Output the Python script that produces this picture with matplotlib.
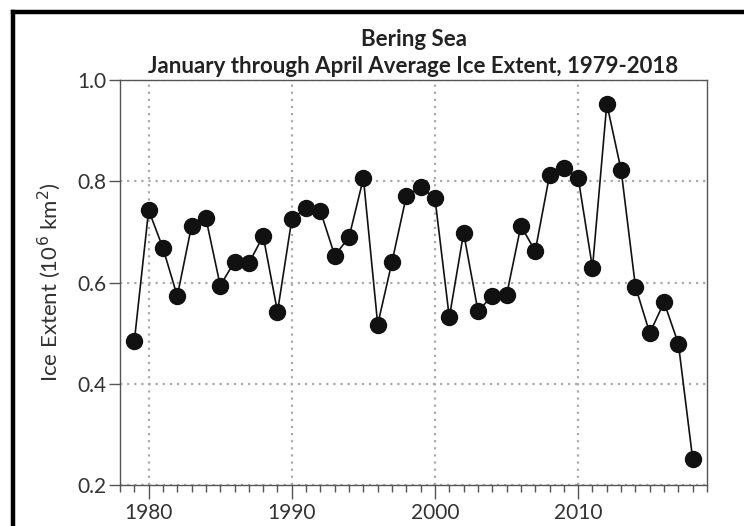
import numpy as np
import matplotlib
matplotlib.use('Agg')
from matplotlib import pyplot as plt
from matplotlib.ticker import MultipleLocator
from matplotlib.lines import Line2D

plt.rcParams['font.family'] = ['Lato', 'DejaVu Sans']

# Bering Sea Jan-Apr mean ice extent (10^6 km^2)
years = np.arange(1979, 2019)
extent = [0.484, 0.743, 0.668, 0.573, 0.712, 0.727, 0.594, 0.641, 0.638, 0.692,
          0.542, 0.725, 0.748, 0.741, 0.653, 0.690, 0.806, 0.517, 0.641, 0.771,
          0.789, 0.766, 0.531, 0.698, 0.544, 0.573, 0.575, 0.712, 0.662, 0.812,
          0.826, 0.807, 0.629, 0.953, 0.822, 0.592, 0.500, 0.561, 0.479, 0.251]

fig = plt.figure(figsize=(7.44, 5.26), dpi=100)
ax = fig.add_axes([0.1613, 0.0779, 0.789, 0.770])

ax.plot(years, extent, color='#111111', linewidth=1.2, marker='o',
        markersize=11.5, markerfacecolor='#111111', markeredgecolor='#111111')

ax.set_xlim(1978, 2019)
ax.set_ylim(0.2, 1.0)
ax.xaxis.set_major_locator(MultipleLocator(10))
ax.xaxis.set_minor_locator(MultipleLocator(1))
ax.yaxis.set_major_locator(MultipleLocator(0.2))
ax.yaxis.set_major_formatter(matplotlib.ticker.FormatStrFormatter('%.1f'))

ax.grid(True, which='major', linestyle=(0, (1, 2.2)), color='#aaaaaa', linewidth=1.6)
for s in ax.spines.values():
    s.set_color('#555555')
    s.set_linewidth(1.0)
ax.tick_params(axis='x', which='major', direction='out', length=10, width=1.0,
               color='#555555', labelsize=15, labelcolor='#333333', pad=3)
ax.tick_params(axis='x', which='minor', direction='out', length=5, width=1.0,
               color='#555555')
ax.tick_params(axis='y', which='major', direction='out', length=8, width=1.0,
               color='#555555', labelsize=15, labelcolor='#333333', pad=2)

ax.set_ylabel('Ice Extent (10$^6$ km$^2$)', fontsize=16, color='#333333', labelpad=10)
ax.set_title('Bering Sea\nJanuary through April Average Ice Extent, 1979-2018',
             fontsize=16, fontweight='bold', color='#222222', pad=5, linespacing=1.35)

# heavy frame along the top and left edges
fig.add_artist(Line2D([0.0175, 0.0175], [0.0, 0.977], transform=fig.transFigure,
                      color='black', linewidth=3.2, solid_capstyle='projecting'))
fig.add_artist(Line2D([0.0175, 1.0], [0.977, 0.977], transform=fig.transFigure,
                      color='black', linewidth=3.2, solid_capstyle='projecting'))

fig.savefig('out.png', dpi=100)
